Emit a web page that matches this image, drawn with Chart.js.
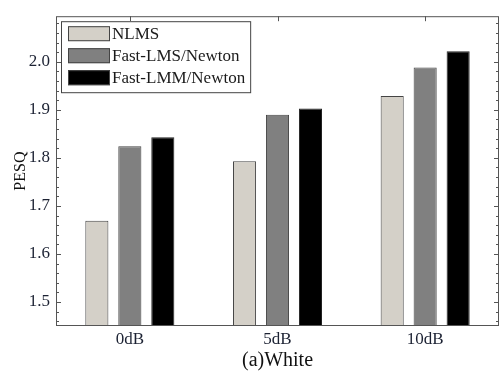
<!DOCTYPE html>
<html>
<head>
<meta charset="utf-8">
<script src="https://cdn.jsdelivr.net/npm/chart.js@4/dist/chart.umd.min.js"></script>
<style>
  body { margin: 0; background: #fff; }
</style>
</head>
<body>
<canvas id="myChart" width="500" height="373"></canvas>
<script>
const categories = ["0dB", "5dB", "10dB"];
const nlms = [1.669, 1.793, 1.929];
const fastLms = [1.824, 1.890, 1.988];
const fastLmm = [1.843, 1.903, 2.022];
const yTicks = [1.5, 1.6, 1.7, 1.8, 1.9, 2.0];

const serif = "'Liberation Serif', 'Times New Roman', serif";

// frame, inward ticks and the boxed legend drawn on top of the chart area
const framePlugin = {
    id: "frame",
    afterDraw(chart) {
        const ctx = chart.ctx;
        const area = chart.chartArea;
        const x = chart.scales.x;
        const y = chart.scales.y;
        ctx.save();
        ctx.strokeStyle = "#555";
        ctx.lineWidth = 1;
        ctx.strokeRect(area.left + 0.5, area.top + 0.5, area.right - area.left - 1, area.bottom - area.top - 1);

        ctx.beginPath();
        // minor ticks every 0.02
        for (let v = Math.ceil(y.min / 0.02) * 0.02; v <= y.max + 1e-9; v += 0.02) {
            const py = Math.round(y.getPixelForValue(v)) + 0.5;
            const major = Math.abs(v * 10 - Math.round(v * 10)) < 1e-6;
            const len = major ? 5 : 3;
            ctx.moveTo(area.left, py);
            ctx.lineTo(area.left + len, py);
            ctx.moveTo(area.right, py);
            ctx.lineTo(area.right - len, py);
        }
        categories.forEach((c, i) => {
            const px = Math.round(x.getPixelForValue(i)) + 0.5;
            ctx.moveTo(px, area.top);
            ctx.lineTo(px, area.top + 5);
        });
        ctx.stroke();

        // legend box
        const bx = area.left + 5, by = area.top + 5;
        const rowH = 22;
        ctx.font = "17px " + serif;
        let maxW = 0;
        chart.data.datasets.forEach(ds => {
            maxW = Math.max(maxW, ctx.measureText(ds.label).width);
        });
        const bw = 7 + 42 + 2 + maxW + 5;
        const bh = chart.data.datasets.length * rowH + 5;
        ctx.fillStyle = "#fff";
        ctx.fillRect(bx, by, bw, bh);
        ctx.strokeStyle = "#444";
        ctx.strokeRect(bx + 0.5, by + 0.5, bw, bh);
        chart.data.datasets.forEach((ds, i) => {
            const sy = by + 5 + i * rowH;
            ctx.fillStyle = ds.backgroundColor;
            ctx.fillRect(bx + 7, sy, 42, 15);
            ctx.strokeStyle = "#444";
            ctx.strokeRect(bx + 7.5, sy + 0.5, 41, 14);
            ctx.fillStyle = "#1a1a1a";
            ctx.textBaseline = "middle";
            ctx.fillText(ds.label, bx + 7 + 42 + 2, sy + 8);
        });
        ctx.restore();
    }
};

const ctx = document.getElementById("myChart").getContext("2d");
new Chart(ctx, {
    type: "bar",
    data: {
        labels: categories,
        datasets: [
            {
                label: "NLMS",
                data: nlms,
                backgroundColor: "#d4d0c8",
                borderColor: "#444",
                borderWidth: 1
            },
            {
                label: "Fast-LMS/Newton",
                data: fastLms,
                backgroundColor: "#808080",
                borderColor: "#444",
                borderWidth: 1
            },
            {
                label: "Fast-LMM/Newton",
                data: fastLmm,
                backgroundColor: "#000000",
                borderColor: "#222",
                borderWidth: 1
            }
        ]
    },
    plugins: [framePlugin],
    options: {
        responsive: false,
        animation: false,
        barPercentage: 0.7,
        categoryPercentage: 0.67,
        layout: {
            padding: {top: 7, right: 1, left: 0, bottom: 0}
        },
        plugins: {
            legend: {display: false},
            tooltip: {enabled: false}
        },
        scales: {
            x: {
                grid: {display: false, drawTicks: false},
                border: {display: false},
                ticks: {
                    color: "#1c2233",
                    font: {family: serif, size: 17},
                    padding: 3
                },
                title: {
                    display: true,
                    text: "(a)White",
                    color: "#111",
                    font: {family: serif, size: 20},
                    padding: {top: 0, bottom: 0}
                },
                afterFit(scale) {
                    scale.height = 47;
                }
            },
            y: {
                min: 1.45,
                max: 2.095,
                grid: {display: false, drawTicks: false},
                border: {display: false},
                afterBuildTicks(scale) {
                    scale.ticks = yTicks.map(v => ({value: v}));
                },
                ticks: {
                    color: "#1c2233",
                    font: {family: serif, size: 17},
                    padding: 6,
                    callback: v => v.toFixed(1)
                },
                title: {
                    display: true,
                    text: "PESQ",
                    color: "#111",
                    font: {family: serif, size: 16},
                    padding: {top: 11, bottom: 0}
                },
                afterFit(scale) {
                    scale.width = 56;
                }
            }
        }
    }
});
</script>
</body>
</html>
